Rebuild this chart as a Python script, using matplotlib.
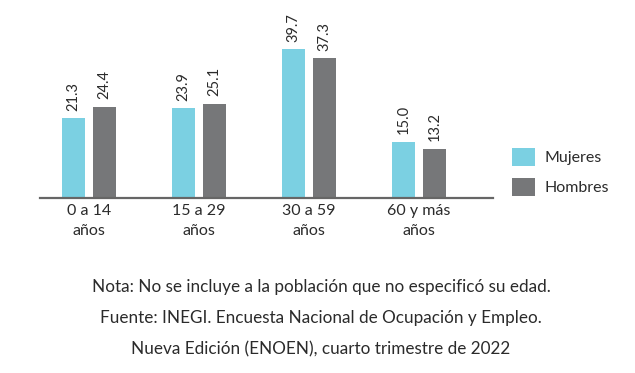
import numpy as np
import matplotlib
matplotlib.use('Agg')
import matplotlib.pyplot as plt

plt.rcParams['font.family'] = ['Lato', 'DejaVu Sans']

# data
grupos = ['0 a 14\naños', '15 a 29\naños', '30 a 59\naños', '60 y más\naños']
mujeres = [21.3, 23.9, 39.7, 15.0]
hombres = [24.4, 25.1, 37.3, 13.2]
notas = [
    'Nota: No se incluye a la población que no especificó su edad.',
    'Fuente: INEGI. Encuesta Nacional de Ocupación y Empleo.',
    'Nueva Edición (ENOEN), cuarto trimestre de 2022',
]

col_m = '#7bd0e2'
col_h = '#767779'
txt = '#2b2b2b'

fig = plt.figure(figsize=(6.35, 3.73), dpi=100)
# axes placed in pixels: x 40..493, baseline at y=198, top at y=20
W, H = 635, 373
ax = fig.add_axes([40 / W, (H - 198) / H, 453 / W, 178 / H])

x = np.arange(len(grupos))
bw = 0.212
off = 0.142
b1 = ax.bar(x - off, mujeres, bw, color=col_m, label='Mujeres')
b2 = ax.bar(x + off, hombres, bw, color=col_h, label='Hombres')

for bars, vals in ((b1, mujeres), (b2, hombres)):
    for b, v in zip(bars, vals):
        ax.text(b.get_x() + b.get_width() / 2, v + 2.0, f'{v:.1f}',
                rotation=90, ha='center', va='bottom', fontsize=10.5, color=txt)

ax.set_xlim(-0.445, 3.673)
ax.set_ylim(0, 47.5)
ax.set_xticks(x)
ax.set_xticklabels(grupos, fontsize=11.5, color=txt, linespacing=1.6)
ax.tick_params(axis='x', length=0, pad=4)
ax.set_yticks([])
for s in ('top', 'right', 'left'):
    ax.spines[s].set_visible(False)
ax.spines['bottom'].set_color('#666666')
ax.spines['bottom'].set_linewidth(1.6)

fig.legend(handles=[b1, b2], loc='center left', bbox_to_anchor=(512 / W, 1 - 172 / H),
           frameon=False, fontsize=11.5, handlelength=1.45, handleheight=1.4,
           handletextpad=0.6, labelspacing=0.7, borderpad=0, borderaxespad=0,
           labelcolor=txt)

for i, line in enumerate(notas):
    fig.text(321 / W, 1 - (287 + 31 * i) / H, line, ha='center', va='center',
             fontsize=12.3, color=txt)

fig.savefig('out.png', dpi=100)
